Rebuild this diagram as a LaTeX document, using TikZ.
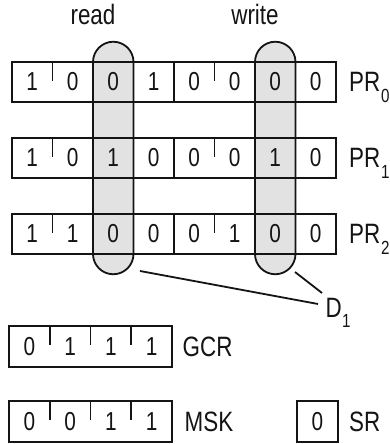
\documentclass[tikz,border=0pt]{standalone}
\usepackage{fontspec}
\setmainfont{Liberation Sans}[FakeStretch=0.8]
\definecolor{ink}{RGB}{20,20,20}
\definecolor{pillgray}{RGB}{226,226,226}
\begin{document}
\begin{tikzpicture}[x=1pt,y=1pt,
  reg/.style={draw=ink, line width=1.8pt},
  pill/.style={draw=ink, fill=pillgray, line width=1.8pt},
  digit/.style={inner sep=0pt, text=ink, font=\fontsize{26}{26}\selectfont},
  lbl/.style={inner sep=0pt, anchor=base west, text=ink, font=\fontsize{28}{28}\selectfont},
  toplbl/.style={inner sep=0pt, anchor=base, text=ink, font=\fontsize{28}{28}\selectfont},
  sublbl/.style={inner sep=0pt, anchor=base west, text=ink, font=\fontsize{19}{19}\selectfont},
  link/.style={draw=ink, line width=1.8pt}]
\useasboundingbox (0,0) rectangle (390,444);
\fill[white] (0,0) rectangle (390,444);

% column highlights
\draw[pill] (93,382) -- (93,190) arc[start angle=180,end angle=360,radius=20.25]
  -- (133.5,382) arc[start angle=0,end angle=180,radius=20.25] -- cycle;
\draw[pill] (255,382) -- (255,190) arc[start angle=180,end angle=360,radius=20.25]
  -- (295.5,382) arc[start angle=0,end angle=180,radius=20.25] -- cycle;

\node[toplbl] (read) at (93,419) {read};
\node[toplbl] (write) at (255,419) {write};

% PR registers
\foreach \yt/\r/\bits in {382/0/{1,0,0,1,0,0,0,0}, 306/1/{1,0,1,0,0,0,1,0}, 230/2/{1,1,0,0,0,1,0,0}}{
  \draw[reg] (12,\yt) rectangle (336,\yt-40);
  \foreach \xx in {93,133.5,174,255,295.5} \draw[reg] (\xx,\yt) -- (\xx,\yt-40);
  \foreach \xx in {52.5,214.5} \draw[reg] (\xx,\yt) -- (\xx,\yt-19);
  \foreach \d [count=\i from 0] in \bits
    \node[digit] (pr\r b\i) at (32.25+40.5*\i,\yt-20) {\d};
  \node[lbl] (pr\r) at (349,\yt-30) {PR};
  \node[sublbl] (pr\r sub) at (381,\yt-41) {\r};
}

% D1 callout
\coordinate (rp) at (140,173);
\coordinate (wp) at (295,172);
\coordinate (da) at (318,140);
\coordinate (db) at (322,151);
\draw[link] (rp) -- (da);
\draw[link] (wp) -- (db);
\node[lbl] (d1) at (325.5,126) {D};
\node[sublbl] (d1sub) at (342,116.5) {1};

% GCR
\draw[reg] (9,118) rectangle (172,77);
\foreach \xx in {49.75,90.5,131.25} \draw[reg] (\xx,118) -- (\xx,99);
\foreach \d [count=\i from 0] in {0,1,1,1}
  \node[digit] (gcr\i) at (29.375+40.75*\i,97.5) {\d};
\node[lbl] (gcr) at (182.5,87.5) {GCR};

% MSK
\draw[reg] (9,43) rectangle (172,2);
\foreach \xx in {49.75,90.5,131.25} \draw[reg] (\xx,43) -- (\xx,24);
\foreach \d [count=\i from 0] in {0,0,1,1}
  \node[digit] (msk\i) at (29.375+40.75*\i,22.5) {\d};
\node[lbl] (msk) at (184.5,12.5) {MSK};

% SR
\draw[reg] (297,43) rectangle (338,2);
\node[digit] (sr0) at (317.5,22.5) {0};
\node[lbl] (sr) at (349,12.5) {SR};
\end{tikzpicture}
\end{document}
